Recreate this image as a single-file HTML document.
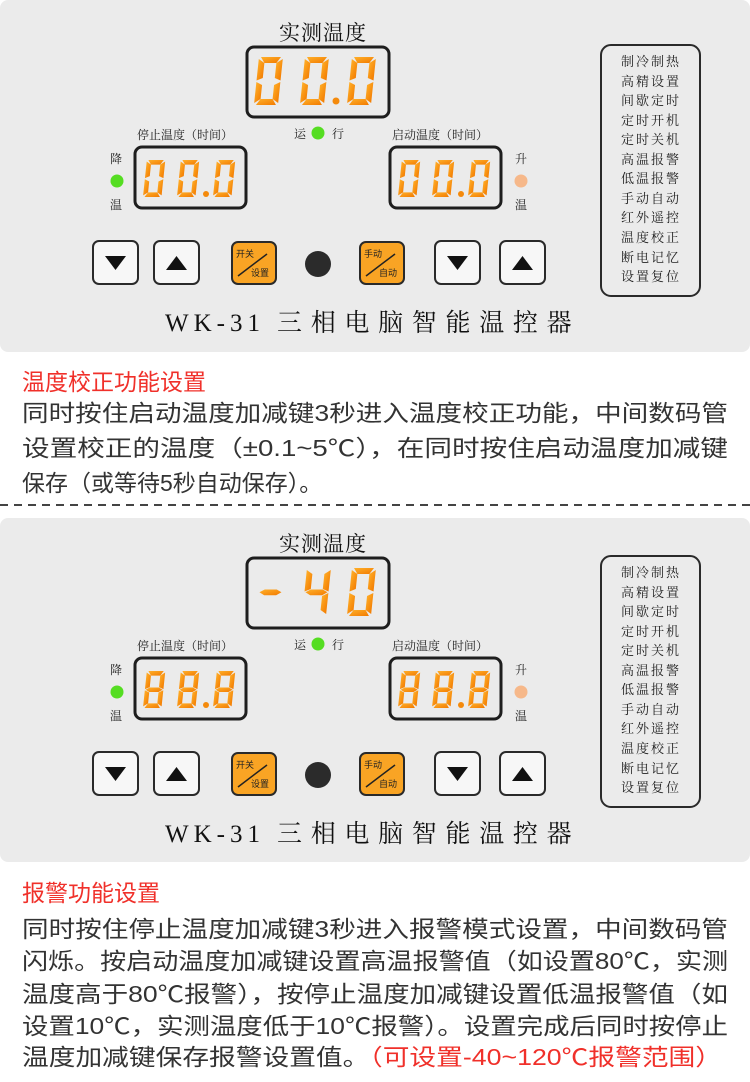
<!DOCTYPE html>
<html><head><meta charset="utf-8"><style>
html,body{margin:0;padding:0;background:#fff;}
svg{display:block;}
.cn{font-family:"Liberation Sans","Noto Sans CJK SC",sans-serif;}
.sf{font-family:"Liberation Serif","Noto Serif CJK SC",serif;}
</style></head><body>
<svg width="750" height="1082" viewBox="0 0 750 1082" xmlns="http://www.w3.org/2000/svg">
<defs>
<linearGradient id="og" x1="0" y1="0" x2="1" y2="1"><stop offset="0" stop-color="#ffb02a"/><stop offset="1" stop-color="#f27a00"/></linearGradient>
<g id="sa"><polygon points="2,0 22,0 18,6 6,6"/></g>
<g id="sb"><polygon points="24,2 24,23.5 18,21 18,6"/></g>
<g id="sc"><polygon points="24,25 24,46 18,42 18,28"/></g>
<g id="sd"><polygon points="6,42 18,42 22,48 2,48"/></g>
<g id="se"><polygon points="0,25 6,28 6,42 0,46"/></g>
<g id="sf"><polygon points="0,2 6,6 6,21 0,23.5"/></g>
<g id="sg"><polygon points="1,24.3 6,21.5 18,21.5 23,24.3 18,27.3 6,27.3"/></g>
<g id="d0" fill="url(#og)" transform="translate(5,0) skewX(-6)"><use href="#sa"/><use href="#sb"/><use href="#sc"/><use href="#sd"/><use href="#se"/><use href="#sf"/></g>
<g id="d8" fill="url(#og)" transform="translate(5,0) skewX(-6)"><use href="#sa"/><use href="#sb"/><use href="#sc"/><use href="#sd"/><use href="#se"/><use href="#sf"/><use href="#sg"/></g>
<g id="d4" fill="url(#og)" transform="translate(5,0) skewX(-6)"><use href="#sb"/><use href="#sc"/><use href="#sf"/><use href="#sg"/></g>
<g id="dm" fill="url(#og)" transform="translate(5,0) skewX(-6)"><use href="#sg"/></g>
<g id="btnD"><rect x="0" y="0" width="45" height="43" rx="6" fill="#f7f7f7" stroke="#2a2a2a" stroke-width="2"/><polygon points="12,15 33,15 22.5,29" fill="#111"/></g>
<g id="btnU"><rect x="0" y="0" width="45" height="43" rx="6" fill="#f7f7f7" stroke="#2a2a2a" stroke-width="2"/><polygon points="12,29 33,29 22.5,15" fill="#111"/></g>
<g id="list" class="sf" font-size="13" fill="#222" text-anchor="middle">
<rect x="601" y="45" width="99" height="251" rx="10" fill="none" stroke="#2a2a2a" stroke-width="2"/>
<text x="651" y="66" letter-spacing="2">制冷制热</text>
<text x="651" y="86" letter-spacing="2">高精设置</text>
<text x="651" y="105" letter-spacing="2">间歇定时</text>
<text x="651" y="125" letter-spacing="2">定时开机</text>
<text x="651" y="144" letter-spacing="2">定时关机</text>
<text x="651" y="164" letter-spacing="2">高温报警</text>
<text x="651" y="183" letter-spacing="2">低温报警</text>
<text x="651" y="203" letter-spacing="2">手动自动</text>
<text x="651" y="222" letter-spacing="2">红外遥控</text>
<text x="651" y="242" letter-spacing="2">温度校正</text>
<text x="651" y="262" letter-spacing="2">断电记忆</text>
<text x="651" y="281" letter-spacing="2">设置复位</text>
</g>
<g id="common">
<text x="323" y="40" class="sf" font-size="21" fill="#111" text-anchor="middle" letter-spacing="1">实测温度</text>
<rect x="247" y="47" width="142" height="70" rx="7" fill="none" stroke="#1e1e1e" stroke-width="3"/>
<rect x="135" y="147" width="111" height="61" rx="7" fill="none" stroke="#1e1e1e" stroke-width="3"/>
<rect x="390" y="147" width="111" height="61" rx="7" fill="none" stroke="#1e1e1e" stroke-width="3"/>
<g class="sf" font-size="12" fill="#222">
<text x="137" y="139">停止温度（时间）</text>
<text x="392" y="139">启动温度（时间）</text>
<text x="294" y="138">运</text><text x="332" y="138">行</text>
<text x="110" y="163">降</text><text x="110" y="209">温</text>
<text x="515" y="163">升</text><text x="515" y="209">温</text>
</g>
<circle cx="318" cy="133" r="6.5" fill="#55dd22"/>
<circle cx="117" cy="181" r="6.5" fill="#55dd22"/>
<circle cx="521" cy="181" r="6.5" fill="#f6b88a"/>
<use href="#btnD" x="93" y="241"/>
<use href="#btnU" x="154" y="241"/>
<use href="#btnD" x="435" y="241"/>
<use href="#btnU" x="500" y="241"/>
<rect x="232" y="242" width="44" height="42" rx="6" fill="#f9a424" stroke="#2a2a2a" stroke-width="2"/>
<line x1="238" y1="276" x2="267" y2="254" stroke="#222" stroke-width="1.5"/>
<text x="236" y="257" class="cn" font-size="9" fill="#222">开关</text>
<text x="251" y="276" class="cn" font-size="9" fill="#222">设置</text>
<rect x="360" y="242" width="44" height="42" rx="6" fill="#f9a424" stroke="#2a2a2a" stroke-width="2"/>
<line x1="366" y1="276" x2="395" y2="254" stroke="#222" stroke-width="1.5"/>
<text x="364" y="257" class="cn" font-size="9" fill="#222">手动</text>
<text x="379" y="276" class="cn" font-size="9" fill="#222">自动</text>
<circle cx="318" cy="264" r="13" fill="#2b2b2b"/>
<text x="165" y="331" class="sf" font-size="25" fill="#111"><tspan letter-spacing="5">WK-31</tspan><tspan x="277" letter-spacing="8.7">三相电脑智能温控器</tspan></text>
<use href="#list"/>
</g>
</defs>

<!-- panel 1 -->
<rect x="0" y="0" width="750" height="352" rx="8" fill="#ebebeb"/>
<use href="#common"/>
<use href="#d0" transform="translate(254,57)"/>
<use href="#d0" transform="translate(300,57)"/>
<use href="#d0" transform="translate(347,57)"/>
<circle cx="336" cy="101" r="3.5" fill="#f48a0c"/>
<use href="#d0" transform="translate(143,160) scale(0.77)"/>
<use href="#d0" transform="translate(177,160) scale(0.77)"/>
<use href="#d0" transform="translate(213,160) scale(0.77)"/>
<circle cx="206" cy="194" r="3" fill="#f48a0c"/>
<use href="#d0" transform="translate(398,160) scale(0.77)"/>
<use href="#d0" transform="translate(432,160) scale(0.77)"/>
<use href="#d0" transform="translate(468,160) scale(0.77)"/>
<circle cx="461" cy="194" r="3" fill="#f48a0c"/>

<g class="cn" font-size="23" fill="#333">
<text x="22" y="390" fill="#f0302a">温度校正功能设置</text>
<text x="22" y="421" textLength="706" lengthAdjust="spacingAndGlyphs">同时按住启动温度加减键3秒进入温度校正功能，中间数码管</text>
<text x="22" y="456" textLength="706" lengthAdjust="spacingAndGlyphs">设置校正的温度（±0.1~5℃），在同时按住启动温度加减键</text>
<text x="22" y="491">保存（或等待5秒自动保存）。</text>
</g>
<line x1="0" y1="505" x2="750" y2="505" stroke="#444" stroke-width="2" stroke-dasharray="8,6"/>

<!-- panel 2 -->
<rect x="0" y="518" width="750" height="344" rx="8" fill="#ebebeb"/>
<g transform="translate(0,511)"><use href="#common"/></g>
<use href="#dm" transform="translate(256,568)"/>
<use href="#d4" transform="translate(302,568)"/>
<use href="#d0" transform="translate(347,568)"/>
<use href="#d8" transform="translate(143,671) scale(0.77)"/>
<use href="#d8" transform="translate(177,671) scale(0.77)"/>
<use href="#d8" transform="translate(213,671) scale(0.77)"/>
<circle cx="206" cy="705" r="3" fill="#f48a0c"/>
<use href="#d8" transform="translate(398,671) scale(0.77)"/>
<use href="#d8" transform="translate(432,671) scale(0.77)"/>
<use href="#d8" transform="translate(468,671) scale(0.77)"/>
<circle cx="461" cy="705" r="3" fill="#f48a0c"/>

<g class="cn" font-size="23" fill="#333">
<text x="22" y="901" fill="#f0302a">报警功能设置</text>
<text x="22" y="937" textLength="706" lengthAdjust="spacingAndGlyphs">同时按住停止温度加减键3秒进入报警模式设置，中间数码管</text>
<text x="22" y="969" textLength="706" lengthAdjust="spacingAndGlyphs">闪烁。按启动温度加减键设置高温报警值（如设置80℃，实测</text>
<text x="22" y="1002" textLength="706" lengthAdjust="spacingAndGlyphs">温度高于80℃报警），按停止温度加减键设置低温报警值（如</text>
<text x="22" y="1034" textLength="706" lengthAdjust="spacingAndGlyphs">设置10℃，实测温度低于10℃报警）。设置完成后同时按停止</text>
<text x="22" y="1065" textLength="700" lengthAdjust="spacingAndGlyphs">温度加减键保存报警设置值。<tspan fill="#f0302a">（可设置-40~120℃报警范围）</tspan></text>
</g>
</svg>
</body></html>
